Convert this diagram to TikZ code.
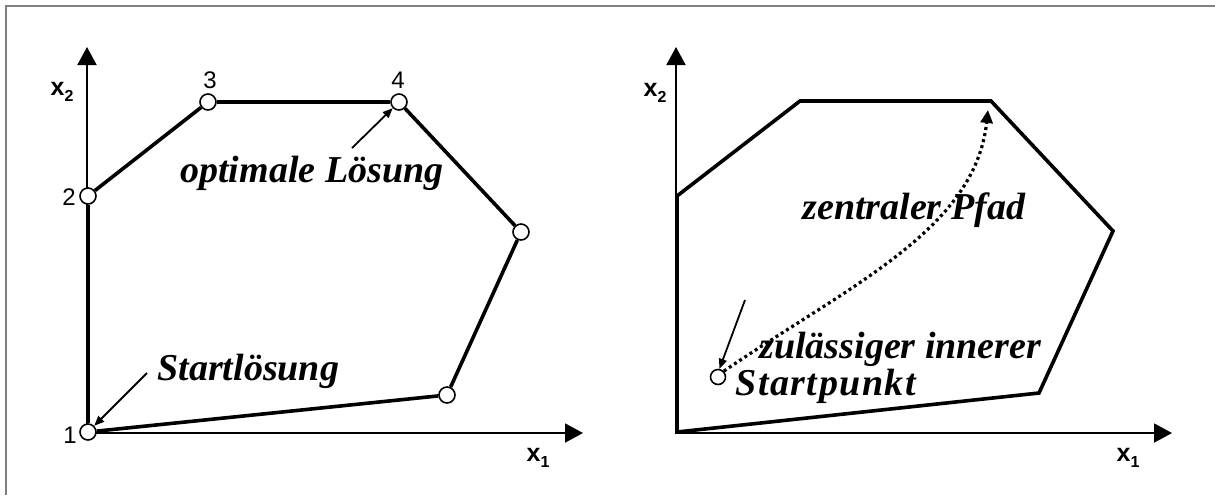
\documentclass[tikz,border=0pt]{standalone}
\usepackage{fontspec}
\setmainfont{Liberation Serif}
\newfontfamily\lsans{Liberation Sans}
\usetikzlibrary{arrows.meta}
\begin{document}
\begin{tikzpicture}[x=0.5pt,y=-0.5pt,
  axisline/.style={line width=1pt,-{Triangle[length=9pt,width=9.5pt]}},
  polyedge/.style={line width=1.8pt,line join=miter},
  vtx/.style={circle,draw,fill=white,line width=0.8pt,inner sep=0pt,minimum size=8pt},
  bigtext/.style={font=\fontsize{19}{22}\selectfont\bfseries\itshape,anchor=base west,inner sep=0pt},
  numlbl/.style={font=\lsans\fontsize{12}{14}\selectfont,inner sep=0pt},
  axlbl/.style={font=\lsans\bfseries\fontsize{12.5}{14}\selectfont,inner sep=0pt},
  pointer/.style={line width=0.9pt,-{Triangle[length=5pt,width=4pt]}},
  pathdots/.style={line width=1.6pt,dash pattern=on 1.5pt off 1.6pt,-{Triangle[length=6.5pt,width=6pt]}},
]
\useasboundingbox (0,0) rectangle (1215,495);
% frame
\draw[gray,line width=1pt] (6,495) -- (6,6) -- (1215,6);

% ---------- left diagram ----------
\coordinate (O1) at (87,433);
\coordinate (Y1) at (87,47);
\coordinate (X1) at (583,433);
\draw[axisline] (O1) -- (Y1);
\draw[axisline] (O1) -- (X1);
\node[axlbl] (x2l) at (62,92) {x\raisebox{-0.45ex}{\fontsize{8}{8}\selectfont 2}};
\node[axlbl] (x1l) at (538,458) {x\raisebox{-0.45ex}{\fontsize{8}{8}\selectfont 1}};

\node[vtx] (v1) at (88,432) {};
\node[vtx] (v2) at (88,196) {};
\node[vtx] (v3) at (208,102) {};
\node[vtx] (v4) at (399,102) {};
\node[vtx] (v5) at (521,232) {};
\node[vtx] (v6) at (447,395) {};
\draw[polyedge] (v1) -- (v2);
\draw[polyedge] (v2) -- (v3);
\draw[polyedge] (v3) -- (v4);
\draw[polyedge] (v4) -- (v5);
\draw[polyedge] (v5) -- (v6);
\draw[polyedge] (v6) -- (v1);
\node[numlbl] (n1) at (70,435) {1};
\node[numlbl] (n2) at (69,197) {2};
\node[numlbl] (n3) at (210,80) {3};
\node[numlbl] (n4) at (398,80) {4};

\node[bigtext] (opt) at (180,182) {optimale Lösung};
\node[bigtext] (start1) at (157,380) {Startlösung};
\coordinate (a1s) at (352,148);
\coordinate (a2s) at (147,373);
\draw[pointer] (a1s) -- (v4);
\draw[pointer] (a2s) -- (v1);

% ---------- right diagram ----------
\coordinate (O2) at (676,433);
\coordinate (Y2) at (676,47);
\coordinate (X2) at (1172,433);
\draw[axisline] (O2) -- (Y2);
\draw[axisline] (O2) -- (X2);
\node[axlbl] (x2r) at (655,93) {x\raisebox{-0.45ex}{\fontsize{8}{8}\selectfont 2}};
\node[axlbl] (x1r) at (1128,458) {x\raisebox{-0.45ex}{\fontsize{8}{8}\selectfont 1}};

\coordinate (p1) at (677,432);
\coordinate (p2) at (677,196);
\coordinate (p3) at (800,101);
\coordinate (p4) at (991,101);
\coordinate (p5) at (1113,231);
\coordinate (p6) at (1039,393);
\draw[polyedge] (p1) -- (p2) -- (p3) -- (p4) -- (p5) -- (p6) -- cycle;

\node[vtx,minimum size=7.5pt] (sp) at (718,377) {};
\coordinate (tip) at (988,110);
\draw[pathdots] (sp.45) .. controls (850,285) and (975,230) .. (tip);
\coordinate (a3s) at (745,300);
\draw[pointer] (a3s) -- (sp.80);

\node[bigtext] (zp) at (802,219) {zentraler Pfad};
\node[bigtext] (zi) at (759,358) {zulässiger innerer};
\node[bigtext,font=\fontsize{19}{22}\selectfont\bfseries\itshape\addfontfeatures{LetterSpace=4}] (spk) at (735,395) {Startpunkt};
\end{tikzpicture}
\end{document}
